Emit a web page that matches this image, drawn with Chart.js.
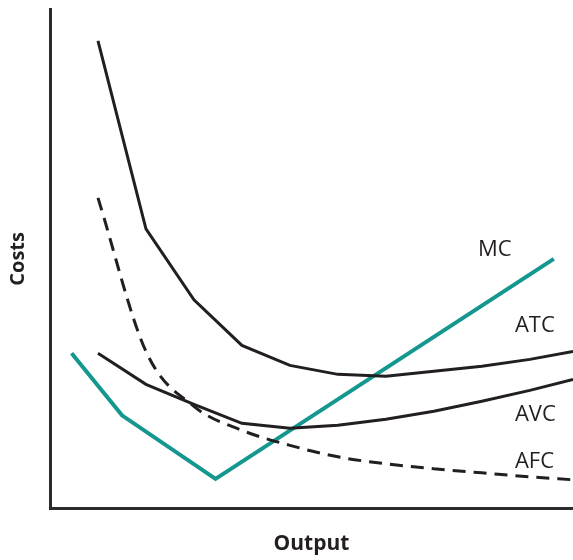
<!DOCTYPE html>
<html>
<head>
<meta charset="utf-8">
<script src="https://cdn.jsdelivr.net/npm/chart.js@4"></script>
<style>
  html, body { margin: 0; padding: 0; background: #fff; }
  #wrap { width: 573px; height: 560px; }
</style>
</head>
<body>
<div id="wrap"><canvas id="costChart"></canvas></div>
<script>
// output quantities for the average cost curves
const outputQty = [1, 2, 3, 4, 5, 6, 7, 8, 9, 10, 10.9];
const atcValues = [93.6, 56.0, 41.8, 32.7, 28.7, 26.9, 26.5, 27.5, 28.5, 29.9, 31.5];
const avcValues = [31.1, 24.9, 20.9, 17.1, 16.1, 16.7, 17.9, 19.5, 21.5, 23.7, 25.9];
const afcValues = [62.2, 31.5, 20.5, 15.7, 12.7, 10.4, 9.0, 8.0, 7.2, 6.4, 5.8];

// marginal cost is a kinked line with its own points
const mcQty = [0.45, 1.5, 3.45, 10.5];
const mcValues = [31.1, 18.7, 6.0, 50.0];

// curve labels: [text, output, cost]
const curveLabels = [
    ['MC', 8.92, 50.6],
    ['ATC', 9.69, 35.3],
    ['AVC', 9.69, 17.5],
    ['AFC', 9.69, 8.2]
];

const ink = '#231f20';
const teal = '#13978f';

function toPoints(xs, ys) {
    return xs.map((x, i) => ({ x: x, y: ys[i] }));
}

// writes the curve names next to the lines, placed through the scales
const labelPlugin = {
    id: 'curveLabels',
    afterDatasetsDraw(chart) {
        const { ctx, scales: { x, y } } = chart;
        ctx.save();
        ctx.fillStyle = ink;
        ctx.font = '22px "Open Sans"';
        ctx.textAlign = 'left';
        ctx.textBaseline = 'alphabetic';
        curveLabels.forEach(([text, q, c]) => {
            ctx.fillText(text, x.getPixelForValue(q), y.getPixelForValue(c));
        });
        ctx.restore();
    }
};

const lineStyle = {
    borderWidth: 3,
    pointRadius: 0,
    fill: false,
    tension: 0
};

new Chart(document.getElementById('costChart'), {
    type: 'line',
    data: {
        datasets: [
            { ...lineStyle, label: 'ATC', data: toPoints(outputQty, atcValues), borderColor: ink },
            { ...lineStyle, label: 'AVC', data: toPoints(outputQty, avcValues), borderColor: ink },
            { ...lineStyle, label: 'AFC', data: toPoints(outputQty, afcValues), borderColor: ink,
              borderDash: [13, 8], cubicInterpolationMode: 'monotone' },
            { ...lineStyle, label: 'MC', data: toPoints(mcQty, mcValues), borderColor: teal, borderWidth: 4 }
        ]
    },
    options: {
        responsive: true,
        maintainAspectRatio: false,
        animation: false,
        layout: { padding: { left: 0, right: 0, top: 9, bottom: 0 } },
        plugins: {
            legend: { display: false },
            tooltip: { enabled: false }
        },
        scales: {
            x: {
                type: 'linear',
                min: 0,
                max: 10.9,
                grid: { display: false },
                ticks: { display: false },
                border: { display: true, color: '#2b2b2b', width: 3 },
                title: {
                    display: true,
                    text: 'Output',
                    color: ink,
                    font: { family: '"Open Sans"', size: 21, weight: 'bold', lineHeight: 1.2 },
                    padding: { top: 15, bottom: 3 }
                }
            },
            y: {
                min: 0,
                max: 100,
                grid: { display: false },
                ticks: { display: false },
                border: { display: true, color: '#2b2b2b', width: 3 },
                title: {
                    display: true,
                    text: 'Costs',
                    color: ink,
                    font: { family: '"Open Sans"', size: 20, weight: 'bold', lineHeight: 1.2 },
                    padding: { top: 6, bottom: 12 }
                }
            }
        }
    },
    plugins: [labelPlugin]
});
</script>
</body>
</html>
